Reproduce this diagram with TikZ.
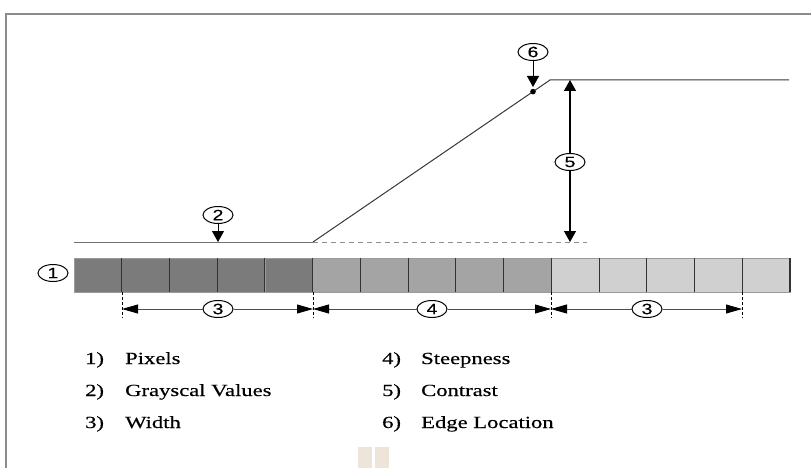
\documentclass[tikz,border=0pt]{standalone}
\usepackage{fontspec}
\usetikzlibrary{arrows.meta,shapes.geometric}
\newfontfamily\legendfont[FakeStretch=1.33,FakeBold=0.4]{Liberation Serif}
\newfontfamily\markfont[FakeStretch=1.3,FakeBold=0.3]{Liberation Sans}
\definecolor{framegray}{HTML}{8C8C8C}
\definecolor{curvegray}{HTML}{383838}
\definecolor{pixdark}{HTML}{7B7B7B}
\definecolor{pixmid}{HTML}{A4A4A4}
\definecolor{pixlight}{HTML}{D0D0D0}
\definecolor{pixedge}{HTML}{9A9A9A}
\definecolor{beige}{HTML}{EDE5DA}
\begin{document}
\begin{tikzpicture}[x=1pt,y=-1pt,
  marker/.style={ellipse, draw, line width=1pt, minimum width=30pt, minimum height=17pt,
    inner sep=0pt, font=\markfont\fontsize{15}{15}\selectfont},
  cell/.style={rectangle, draw=pixedge, line width=0.8pt, minimum width=47.73pt,
    minimum height=34pt, inner sep=0pt, outer sep=0pt},
  divider/.style={draw=black!80, line width=1.1pt},
  curve/.style={draw=curvegray, line width=1pt},
  pointer/.style={draw=black, line width=1pt, -{Triangle[length=11pt,width=12pt]}},
  dimline/.style={draw=black!70, line width=0.8pt, -{Triangle[length=16pt,width=9pt,color=black]}},
  tick/.style={draw=black, line width=0.9pt, dash pattern=on 3pt off 2pt},
  legend/.style={anchor=base west, inner sep=0pt, font=\legendfont\fontsize{17}{17}\selectfont}]
\useasboundingbox (0,0) rectangle (811,468);
\fill[white] (0,0) rectangle (811,468);

% frame
\draw[framegray, line width=1.4pt] (6,468) -- (6,14) -- (811,14);

% pixel row
\foreach \i in {0,...,4}  {\node[cell, fill=pixdark]  (p\i) at ({74+47.733*\i+23.87},275) {};}
\foreach \i in {5,...,9}  {\node[cell, fill=pixmid]   (p\i) at ({74+47.733*\i+23.87},275) {};}
\foreach \i in {10,...,14}{\node[cell, fill=pixlight] (p\i) at ({74+47.733*\i+23.87},275) {};}
\foreach \i in {1,...,14} {\draw[divider] (p\i.north west) -- (p\i.south west);}
\draw[divider] (p14.north east) -- (p14.south east);

% grayscale profile
\coordinate (low0) at (74,242);
\coordinate (rampstart) at (313,242);
\coordinate (rampend) at (550,80);
\coordinate (high1) at (789,80);
\coordinate (basefoot) at (570,242);
\coordinate (dashend) at (587,242);
\coordinate (edgept) at (533,91.6);
\draw[curve, draw=black!55] (low0) -- (rampstart);
\draw[curve] (rampstart) -- (rampend) -- (high1);
\draw[framegray, line width=0.8pt, dash pattern=on 5pt off 4pt] (rampstart) -- (dashend);
\fill[black] (edgept) circle (2.8pt);

% markers
\node[marker] (m1) at (53,273) {1};
\node[marker] (m2) at (218,215) {2};
\node[marker] (m3a) at (218,309) {3};
\node[marker] (m4) at (432,309) {4};
\node[marker] (m3b) at (647,309) {3};
\node[marker] (m5) at (570,162) {5};
\node[marker] (m6) at (533,52) {6};

% pointers
\coordinate (lowmark) at (218,242);
\coordinate (hightop) at (570,80);
\coordinate (edgetip) at (533,87);
\draw[pointer] (m2.south) -- (lowmark);
\draw[pointer, line width=1.4pt] (m5.north) -- (hightop);
\draw[pointer, line width=1.4pt] (m5.south) -- (basefoot);
\draw[pointer] (m6.south) -- (edgetip);

% width / steepness dimensions
\coordinate (t1) at (122,309);
\coordinate (t2) at (313,309);
\coordinate (t3) at (551,309);
\coordinate (t4) at (742,309);
\draw[tick] (122,292) -- (122,318);
\draw[tick] (313,292) -- (313,318);
\draw[tick] (551,292) -- (551,318);
\draw[tick] (742,292) -- (742,318);
\draw[dimline] (m3a.west) -- (t1);
\draw[dimline] (m3a.east) -- (t2);
\draw[dimline] (m4.west) -- (t2);
\draw[dimline] (m4.east) -- (t3);
\draw[dimline] (m3b.west) -- (t3);
\draw[dimline] (m3b.east) -- (t4);

% legend
\node[legend] (l1n) at (85,364) {1)};
\node[legend] (l1t) at (125,364) {Pixels};
\node[legend] (l2n) at (85,396) {2)};
\node[legend] (l2t) at (125,396) {Grayscal Values};
\node[legend] (l3n) at (85,428) {3)};
\node[legend] (l3t) at (125,428) {Width};
\node[legend] (l4n) at (382,364) {4)};
\node[legend] (l4t) at (421,364) {Steepness};
\node[legend] (l5n) at (382,396) {5)};
\node[legend] (l5t) at (421,396) {Contrast};
\node[legend] (l6n) at (382,428) {6)};
\node[legend] (l6t) at (421,428) {Edge Location};

% light blocks at the bottom edge
\fill[beige] (358,447) rectangle (372,468);
\fill[beige] (375,447) rectangle (389,468);
\end{tikzpicture}
\end{document}
